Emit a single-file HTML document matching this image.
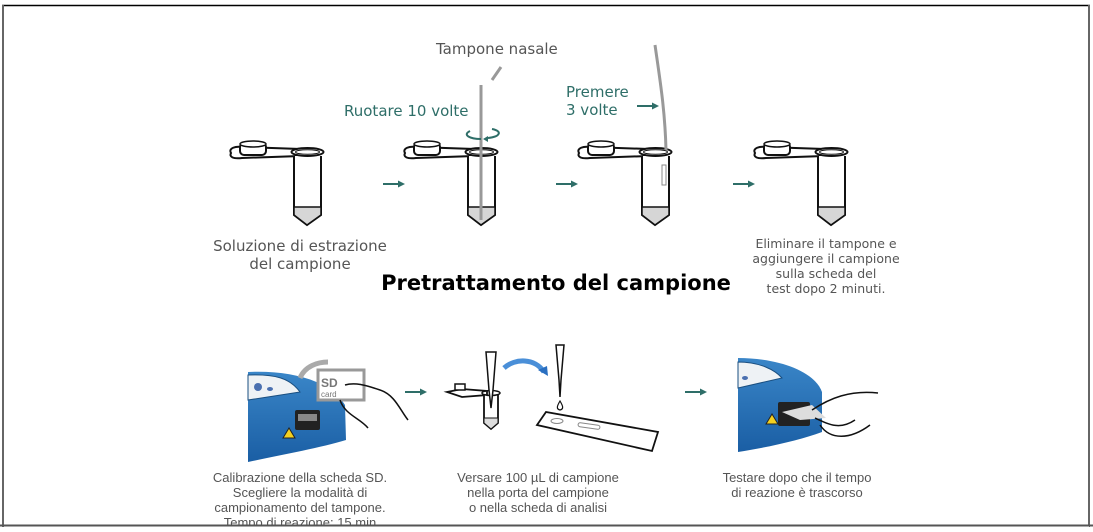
<!DOCTYPE html>
<html><head><meta charset="utf-8"><style>
html,body{margin:0;padding:0;background:#fff;}
svg{display:block;}
text{font-family:"DejaVu Sans","Liberation Sans",sans-serif;}
text.lib{font-family:"Liberation Sans",sans-serif;}
</style></head><body>
<svg width="1093" height="532" viewBox="0 0 1093 532" xmlns="http://www.w3.org/2000/svg">
<defs>
<g id="tube">
 <path d="M231,153 C228,148 236,146 242,147 L300,149 L300,156 L242,158 C233,159 229,157 231,153 Z" fill="#fff" stroke="#111" stroke-width="2"/>
 <rect x="240" y="143" width="26" height="12" rx="4" fill="#fff" stroke="#111" stroke-width="2"/>
 <ellipse cx="253" cy="144" rx="13" ry="3" fill="#fff" stroke="#111" stroke-width="1.5"/>
 <path d="M294,156 L294,215 L307,225 L321,215 L321,156" fill="#fff" stroke="#111" stroke-width="2"/>
 <path d="M294,207 L321,207 L321,215 L307,225 L294,215 Z" fill="#d6d6d6" stroke="#111" stroke-width="1.5"/>
 <ellipse cx="307.5" cy="152" rx="16" ry="4" fill="#fff" stroke="#111" stroke-width="2"/>
 <ellipse cx="307.5" cy="152" rx="12" ry="2.3" fill="none" stroke="#111" stroke-width="1"/>
</g>
<g id="arr"><line x1="0" y1="0" x2="17" y2="0" stroke="#2e6e68" stroke-width="2"/><path d="M15,-3.5 L22,0 L15,3.5Z" fill="#2e6e68"/></g>
<linearGradient id="bl" x1="0" y1="0" x2="0" y2="1"><stop offset="0" stop-color="#3a86c8"/><stop offset="1" stop-color="#1a5ea4"/></linearGradient>
</defs>

<line x1="2" y1="5.5" x2="1090" y2="5.5" stroke="#000" stroke-width="1.5"/>
<line x1="3" y1="5" x2="3" y2="527" stroke="#666" stroke-width="2"/>
<line x1="1089" y1="5" x2="1089" y2="527" stroke="#666" stroke-width="2"/>

<use href="#tube"/>
<use href="#tube" x="174"/>
<use href="#tube" x="348"/>
<use href="#tube" x="524"/>

<line x1="481" y1="85" x2="481" y2="220" stroke="#999" stroke-width="3"/>
<line x1="492" y1="80" x2="501" y2="67" stroke="#999" stroke-width="3"/>
<path d="M470,131 C462,135 470,139 481,139" fill="none" stroke="#2e6e68" stroke-width="2"/>
<path d="M488,138 C500,137 503,131 492,129" fill="none" stroke="#2e6e68" stroke-width="2"/>
<path d="M483,139 l5,-3 l0,6z" fill="#2e6e68"/>
<path d="M655,45 C660,80 665,110 666,150" fill="none" stroke="#999" stroke-width="3"/>
<rect x="662" y="165" width="4" height="20" fill="#fff" stroke="#888" stroke-width="1"/>
<use href="#arr" x="637" y="106"/>

<use href="#arr" x="383" y="184"/>
<use href="#arr" x="556" y="184"/>
<use href="#arr" x="733" y="184"/>

<text x="436" y="54" font-size="15" fill="#555">Tampone nasale</text>
<text x="344" y="116" font-size="15" fill="#2e6e68">Ruotare 10 volte</text>
<text x="566" y="97" font-size="15" fill="#2e6e68">Premere</text>
<text x="566" y="115" font-size="15" fill="#2e6e68">3 volte</text>
<text x="300" y="251" font-size="15" fill="#555" text-anchor="middle">Soluzione di estrazione</text>
<text x="300" y="269" font-size="15" fill="#555" text-anchor="middle">del campione</text>
<g font-size="12.5" fill="#555" text-anchor="middle">
<text x="826" y="248">Eliminare il tampone e</text>
<text x="826" y="263">aggiungere il campione</text>
<text x="826" y="278">sulla scheda del</text>
<text x="826" y="293">test dopo 2 minuti.</text>
</g>
<text x="556" y="290" font-size="21" font-weight="bold" fill="#000" text-anchor="middle">Pretrattamento del campione</text>

<!-- device 1 -->
<path d="M248,372 C290,370 330,380 345,405 L346,440 C320,448 280,455 248,462 Z" fill="url(#bl)"/>
<path d="M248,375 C275,374 290,378 300,392 L248,400 Z" fill="#eef2f5" stroke="#1a4f80" stroke-width="1"/>
<circle cx="258" cy="387" r="4" fill="#4a70b0"/><ellipse cx="270" cy="389" rx="3" ry="2" fill="#4a70b0"/>
<rect x="295" y="410" width="25" height="20" rx="2" fill="#222"/><rect x="298" y="414" width="19" height="7" fill="#888"/>
<path d="M283,438 l6,-10 l6,10z" fill="#f3d020" stroke="#222" stroke-width="1"/>
<path d="M300,378 C305,366 318,362 328,362" fill="none" stroke="#aaa" stroke-width="5"/>
<rect x="318" y="370" width="46" height="30" fill="#fff" stroke="#999" stroke-width="3"/>
<text class="lib" x="321" y="387" font-size="12" font-weight="bold" fill="#777">SD</text>
<text class="lib" x="321" y="397" font-size="8" fill="#777">card</text>
<path d="M345,385 C355,382 365,385 380,390 C395,395 400,410 408,420 M340,400 C345,415 360,418 368,428" fill="none" stroke="#111" stroke-width="1.5"/>
<use href="#arr" x="405" y="392"/>

<!-- step 2 -->
<path d="M447,392 l15,-3 l25,2 l0,4 l-25,2z" fill="#fff" stroke="#111" stroke-width="1.8"/>
<rect x="455" y="384" width="10" height="6" fill="#fff" stroke="#111" stroke-width="1.5"/>
<path d="M484,395 L484,423 L491,429 L498,423 L498,395" fill="#fff" stroke="#111" stroke-width="1.8"/>
<path d="M484,418 L498,418 L498,423 L491,429 L484,423Z" fill="#ddd" stroke="#111" stroke-width="1"/>
<ellipse cx="491" cy="393" rx="9" ry="2.5" fill="none" stroke="#111" stroke-width="1.5"/>
<path d="M486,352 L496,352 L493,390 L491,408 L489,390Z" fill="#fff" stroke="#111" stroke-width="1.5"/>
<path d="M504,368 C515,358 535,358 544,372" fill="none" stroke="#4a8fd8" stroke-width="5"/>
<path d="M538,370 l10,6 l-1,-10z" fill="#2a6fc0"/>
<path d="M556,345 L564,345 L561,380 L560,397 L559,380Z" fill="#fff" stroke="#111" stroke-width="1.5"/>
<path d="M560,401 c-3,5 -4,8 0,9 c4,-1 3,-4 0,-9z" fill="#fff" stroke="#111" stroke-width="1.2"/>
<path d="M537,425 L546,412 L658,432 L652,451 Z" fill="#fff" stroke="#111" stroke-width="1.8"/>
<ellipse cx="557" cy="421" rx="6" ry="2.5" fill="none" stroke="#888"/>
<rect x="578" y="424" width="22" height="4" rx="2" fill="none" stroke="#888" transform="rotate(8 589 426)"/>

<use href="#arr" x="685" y="392"/>

<!-- device 2 -->
<path d="M738,358 C780,358 815,372 822,392 L822,432 C800,440 770,447 738,452 Z" fill="url(#bl)"/>
<path d="M738,362 C760,362 775,370 782,378 L738,388 Z" fill="#eef2f5" stroke="#1a4f80" stroke-width="1"/>
<ellipse cx="745" cy="378" rx="3" ry="2" fill="#4a70b0"/>
<rect x="778" y="402" width="32" height="24" rx="2" fill="#222"/>
<path d="M782,412 L812,405 L826,418 L800,420 Z" fill="#ddd"/>
<path d="M766,424 l6,-10 l6,10z" fill="#f3d020" stroke="#222" stroke-width="1"/>
<path d="M812,410 C830,398 850,390 878,393 M815,418 C830,425 840,430 855,420 M820,425 C830,440 850,440 870,425" fill="none" stroke="#111" stroke-width="1.5"/>

<g font-size="13" fill="#555" text-anchor="middle">
<text class="lib" x="300" y="482">Calibrazione della scheda SD.</text>
<text class="lib" x="300" y="497">Scegliere la modalità di</text>
<text class="lib" x="300" y="512">campionamento del tampone.</text>
<text class="lib" x="300" y="527">Tempo di reazione: 15 min</text>
<text class="lib" x="538" y="482">Versare 100 µL di campione</text>
<text class="lib" x="538" y="497">nella porta del campione</text>
<text class="lib" x="538" y="512">o nella scheda di analisi</text>
<text class="lib" x="797" y="482">Testare dopo che il tempo</text>
<text class="lib" x="797" y="497">di reazione è trascorso</text>
</g>
<rect x="4" y="525" width="1085" height="7" fill="#fff"/>
<line x1="0" y1="525.5" x2="1093" y2="525.5" stroke="#555" stroke-width="2"/>
</svg>
</body></html>
